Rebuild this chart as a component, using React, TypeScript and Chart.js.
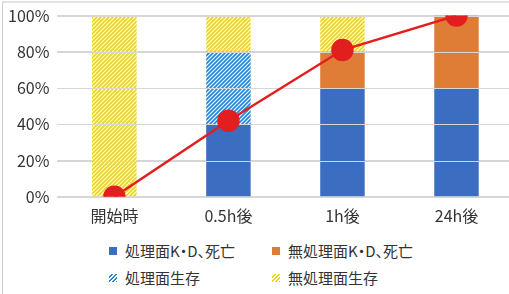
import React, { useEffect, useRef } from "react";
import { Chart, registerables } from "chart.js";

Chart.register(...registerables);

const categories = ["開始時", "0.5h後", "1h後", "24h後"];
const treatedKD = [0, 40, 60, 60];
const untreatedKD = [0, 0, 20, 40];
const treatedSurvive = [0, 40, 0, 0];
const untreatedSurvive = [100, 20, 20, 0];
const totalKD = [0, 42, 81, 100];
const seriesNames = ["処理面K・D、死亡", "無処理面K・D、死亡", "処理面生存", "無処理面生存"];

const BLUE = "#3b6dc0";
const ORANGE = "#df7c36";
const HATCH_BLUE = "#2287d6";
const HATCH_YELLOW = "#efd21a";
const RED = "#e31e1e";
const FONT = "'Noto Sans CJK JP', 'Noto Sans', sans-serif";
const TEXT = "#333333";
const GRID = "#d6d6d6";

function hatch(color: string): CanvasPattern | string {
  const c = document.createElement("canvas");
  c.width = 4;
  c.height = 4;
  const ctx = c.getContext("2d");
  if (!ctx) return color;
  ctx.fillStyle = "#ffffff";
  ctx.fillRect(0, 0, 4, 4);
  ctx.strokeStyle = color;
  ctx.lineWidth = 1.7;
  ctx.beginPath();
  ctx.moveTo(-1, 5);
  ctx.lineTo(5, -1);
  ctx.moveTo(-1, 1);
  ctx.lineTo(1, -1);
  ctx.moveTo(3, 5);
  ctx.lineTo(5, 3);
  ctx.stroke();
  return ctx.createPattern(c, "repeat") || color;
}

const gridOverBars = {
  id: "gridOverBars",
  beforeDatasetDraw(chart: any, args: any) {
    if (args.meta.type !== "line") return;
    const { ctx, chartArea, scales } = chart;
    const y = scales.y;
    ctx.save();
    ctx.strokeStyle = GRID;
    ctx.lineWidth = 1;
    y.ticks.forEach((t: any) => {
      const py = Math.round(y.getPixelForValue(t.value)) + 0.5;
      ctx.beginPath();
      ctx.moveTo(chartArea.left, py);
      ctx.lineTo(chartArea.right, py);
      ctx.stroke();
    });
    ctx.restore();
  },
};

const swatchStyle = (kind: number): React.CSSProperties => {
  const base: React.CSSProperties = {
    display: "inline-block",
    width: 8,
    height: 8,
    marginRight: 8,
    verticalAlign: "middle",
  };
  if (kind === 0) return { ...base, background: BLUE };
  if (kind === 1) return { ...base, background: ORANGE };
  const col = kind === 2 ? HATCH_BLUE : HATCH_YELLOW;
  return {
    ...base,
    background: `repeating-linear-gradient(135deg, #fff 0px, #fff 1.5px, ${col} 1.5px, ${col} 3px)`,
  };
};

export default function App() {
  const ref = useRef<HTMLCanvasElement>(null);
  useEffect(() => {
    if (!ref.current) return;
    const bar = {
      type: "bar" as const,
      stack: "s",
      order: 1,
      barPercentage: 1,
      categoryPercentage: 0.39,
      borderWidth: 0,
    };
    const chart = new Chart(ref.current, {
      type: "bar",
      data: {
        labels: categories,
        datasets: [
          { ...bar, label: seriesNames[0], data: treatedKD, backgroundColor: BLUE },
          { ...bar, label: seriesNames[1], data: untreatedKD, backgroundColor: ORANGE },
          { ...bar, label: seriesNames[2], data: treatedSurvive, backgroundColor: hatch(HATCH_BLUE) as any },
          { ...bar, label: seriesNames[3], data: untreatedSurvive, backgroundColor: hatch(HATCH_YELLOW) as any },
          {
            type: "line" as const,
            label: "total",
            stack: "line",
            order: 0,
            data: totalKD,
            borderColor: RED,
            backgroundColor: RED,
            borderWidth: 2.5,
            pointRadius: 10,
            pointBackgroundColor: RED,
            pointBorderColor: RED,
            tension: 0,
          } as any,
        ],
      },
      options: {
        animation: false,
        responsive: false,
        maintainAspectRatio: false,
        layout: { padding: { left: 0, top: 4, right: 0, bottom: 2 } },
        plugins: { legend: { display: false }, tooltip: { enabled: false } },
        scales: {
          x: {
            stacked: true,
            grid: { display: false },
            border: { display: false },
            ticks: { color: TEXT, font: { family: FONT, size: 16 }, padding: 2 },
          },
          y: {
            stacked: true,
            min: 0,
            max: 100,
            border: { display: false },
            grid: { color: GRID, drawTicks: false },
            ticks: {
              stepSize: 20,
              padding: 8,
              color: TEXT,
              font: { family: FONT, size: 16 },
              callback: (v: any) => v + "%",
            },
          },
        },
      },
      plugins: [gridOverBars],
    });
    return () => chart.destroy();
  }, []);

  const legendItem = (i: number) => (
    <div style={{ display: "flex", alignItems: "center", whiteSpace: "nowrap" }}>
      <span style={swatchStyle(i)} />
      <span>{seriesNames[i]}</span>
    </div>
  );

  return (
    <div
      style={{
        position: "fixed",
        left: 0,
        top: 0,
        width: 509,
        height: 294,
        overflow: "hidden",
        background: "#fff",
        fontFamily: FONT,
        color: TEXT,
      }}
    >
      <div style={{ position: "absolute", left: 2, top: 1, width: 520, height: 300, borderLeft: "1px solid #cfcfcf", borderTop: "2px solid #e2e2e2" }} />
      <canvas ref={ref} width={526} height={232} style={{ position: "absolute", left: 0, top: -2 }} />
      <div
        style={{
          position: "absolute",
          left: 109,
          top: 240,
          display: "grid",
          gridTemplateColumns: "163px auto",
          rowGap: 6,
          fontSize: 15,
          lineHeight: "21px",
          fontFeatureSettings: '"palt"',
        }}
      >
        {legendItem(0)}
        {legendItem(1)}
        {legendItem(2)}
        {legendItem(3)}
      </div>
    </div>
  );
}
